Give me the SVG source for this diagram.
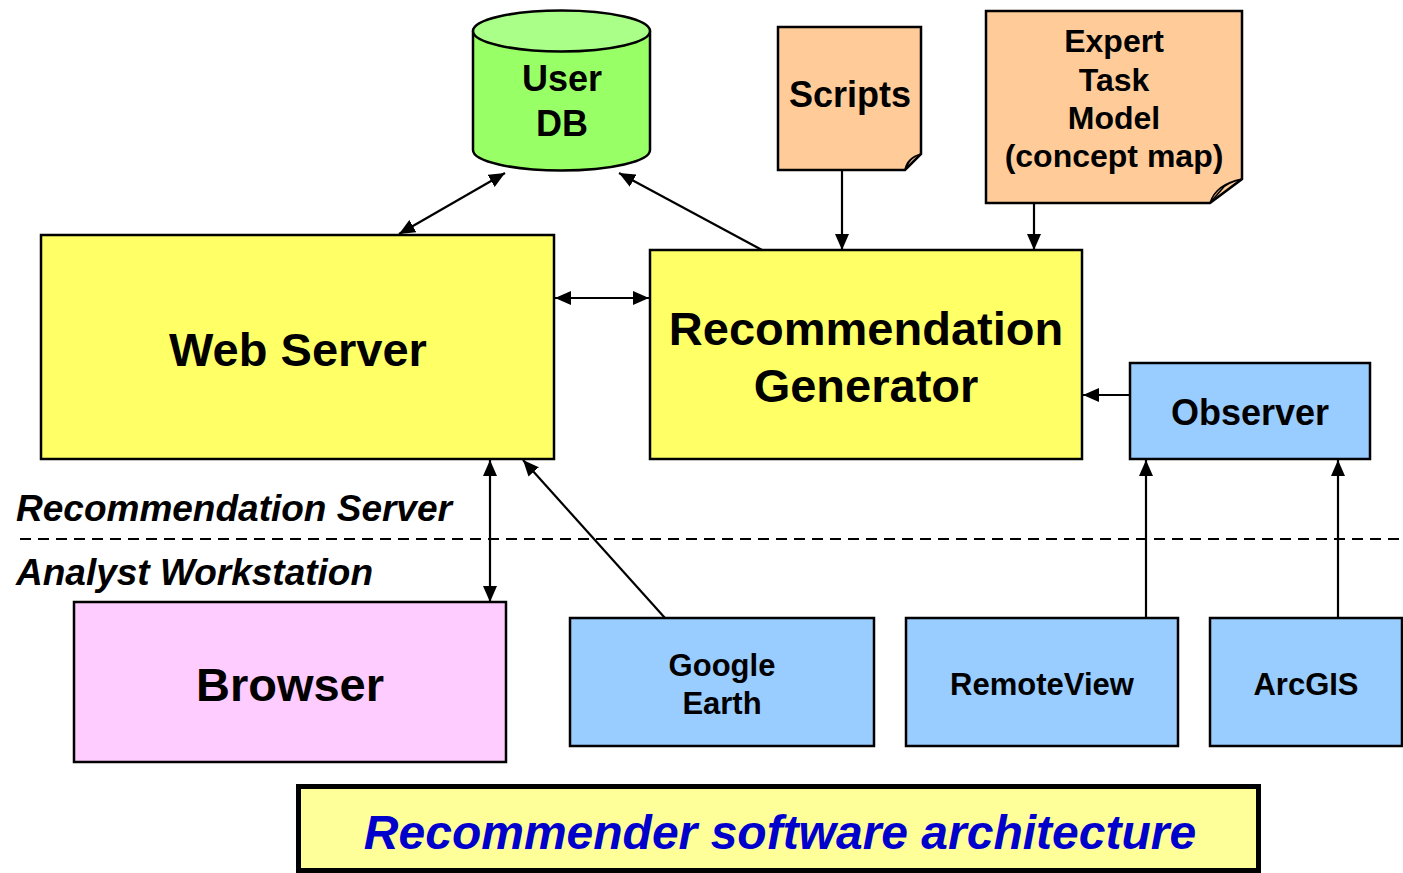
<svg xmlns="http://www.w3.org/2000/svg" width="1403" height="873" viewBox="0 0 1403 873">
<defs>
<marker id="ah" markerUnits="userSpaceOnUse" markerWidth="16" markerHeight="14" viewBox="0 0 16 14" refX="16" refY="7" orient="auto-start-reverse">
<path d="M0,0 L16,7 L0,14 Z" fill="#000"/>
</marker>
</defs>
<style>
.box{stroke:#000;stroke-width:2.5}
.yel{fill:#FFFF66}
.blue{fill:#99CCFF}
.note{fill:#FFCC99}
.fold{fill:#D9A877;stroke:#000;stroke-width:1.5}
.t{font-family:"Liberation Sans",Arial,sans-serif;font-weight:bold;fill:#000;text-anchor:middle}
.lbl{font-family:"Liberation Sans",Arial,sans-serif;font-weight:bold;font-style:italic;fill:#000}
.c{stroke:#000;stroke-width:2.2;fill:none}
</style>
<rect width="1403" height="873" fill="#fff"/>

<g id="connectors">
<line class="c" x1="399" y1="234" x2="505" y2="173" marker-start="url(#ah)" marker-end="url(#ah)"/>
<line class="c" x1="762" y1="250" x2="619" y2="173" marker-end="url(#ah)"/>
<line class="c" x1="842" y1="171" x2="842" y2="250" marker-end="url(#ah)"/>
<line class="c" x1="1034" y1="203" x2="1034" y2="250" marker-end="url(#ah)"/>
<line class="c" x1="555" y1="298" x2="649" y2="298" marker-start="url(#ah)" marker-end="url(#ah)"/>
<line class="c" x1="1130" y1="395" x2="1083" y2="395" marker-end="url(#ah)"/>
<line class="c" x1="490" y1="460" x2="490" y2="602" marker-start="url(#ah)" marker-end="url(#ah)"/>
<line class="c" x1="665" y1="618" x2="523" y2="460" marker-end="url(#ah)"/>
<line class="c" x1="1146" y1="618" x2="1146" y2="460" marker-end="url(#ah)"/>
<line class="c" x1="1338" y1="618" x2="1338" y2="460" marker-end="url(#ah)"/>
</g>

<g id="divider">
<line x1="20" y1="539" x2="1403" y2="539" stroke="#000" stroke-width="2" stroke-dasharray="11,7"/>
<text class="lbl" x="16" y="521" font-size="37">Recommendation Server</text>
<text class="lbl" x="16" y="585" font-size="37">Analyst Workstation</text>
</g>

<g id="userdb">
<path d="M473,31 L473,150 A88.5,20.5 0 0 0 650,150 L650,31" fill="#99FF66" stroke="#000" stroke-width="2.5"/>
<ellipse cx="561.5" cy="31" rx="88.5" ry="20.5" fill="#AAFF88" stroke="#000" stroke-width="2.5"/>
<text class="t" x="562" y="91" font-size="36">User</text>
<text class="t" x="562" y="136" font-size="36">DB</text>
</g>

<g id="scripts">
<path class="box note" d="M778,27 L921,27 L921,154 L905,170 L778,170 Z"/>
<path class="fold" d="M905,170 Q907,158 921,154 Q912,157 909,162 Z"/>
<text class="t" x="850" y="107" font-size="36">Scripts</text>
</g>

<g id="expert">
<path class="box note" d="M986,11 L1242,11 L1242,179 L1210,203 L986,203 Z"/>
<path class="fold" d="M1210,203 Q1216,184 1242,179 Q1226,183 1222,189 Z"/>
<text class="t" x="1114" y="52" font-size="32">Expert</text>
<text class="t" x="1114" y="91" font-size="32">Task</text>
<text class="t" x="1114" y="129" font-size="32">Model</text>
<text class="t" x="1114" y="167" font-size="32">(concept map)</text>
</g>

<g id="webserver">
<rect class="box yel" x="41" y="235" width="513" height="224"/>
<text class="t" x="298" y="366" font-size="47">Web Server</text>
</g>

<g id="recgen">
<rect class="box yel" x="650" y="250" width="432" height="209"/>
<text class="t" x="866" y="345" font-size="47">Recommendation</text>
<text class="t" x="866" y="402" font-size="47">Generator</text>
</g>

<g id="observer">
<rect class="box blue" x="1130" y="363" width="240" height="96"/>
<text class="t" x="1250" y="425" font-size="36">Observer</text>
</g>

<g id="browser">
<rect class="box" fill="#FFCCFF" x="74" y="602" width="432" height="160"/>
<text class="t" x="290" y="701" font-size="47">Browser</text>
</g>

<g id="googleearth">
<rect class="box blue" x="570" y="618" width="304" height="128"/>
<text class="t" x="722" y="676" font-size="31">Google</text>
<text class="t" x="722" y="714" font-size="31">Earth</text>
</g>

<g id="remoteview">
<rect class="box blue" x="906" y="618" width="272" height="128"/>
<text class="t" x="1042" y="695" font-size="31">RemoteView</text>
</g>

<g id="arcgis">
<rect class="box blue" x="1210" y="618" width="192" height="128"/>
<text class="t" x="1306" y="695" font-size="31">ArcGIS</text>
</g>

<g id="caption">
<rect x="298.5" y="786.5" width="960" height="84" fill="#FFFF99" stroke="#000" stroke-width="5"/>
<text x="780" y="849" font-family="'Liberation Sans',Arial,sans-serif" font-weight="bold" font-style="italic" font-size="48" fill="#0000CC" text-anchor="middle">Recommender software architecture</text>
</g>
</svg>
